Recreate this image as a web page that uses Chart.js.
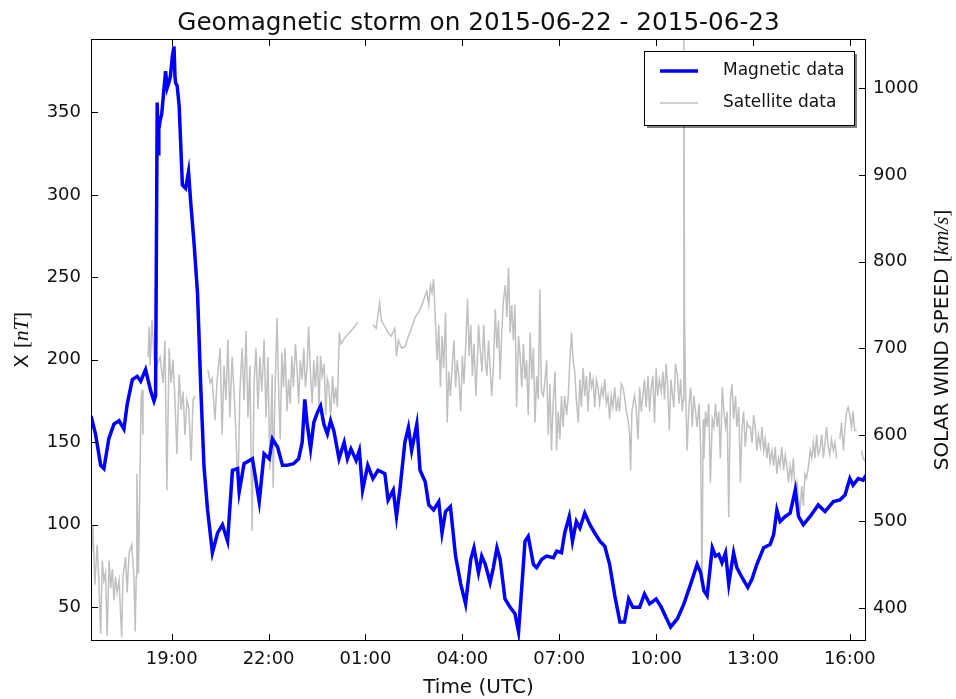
<!DOCTYPE html>
<html>
<head>
<meta charset="utf-8">
<script src="https://cdn.jsdelivr.net/npm/chart.js@4.4.1/dist/chart.umd.min.js"></script>
<style>
    body { margin: 0; background: #fff; }
    #wrap { width: 956px; height: 699px; }
</style>
</head>
<body>
<div id="wrap"><canvas id="storm" width="956" height="699"></canvas></div>
<script>
// hours counted from 2015-06-22 00:00 UTC
const magHours = [16.50, 16.64, 16.80, 16.90, 17.05, 17.21, 17.37, 17.52, 17.62, 17.78, 17.93, 18.04, 18.19, 18.35, 18.45, 18.50,
    18.55, 18.58, 18.60, 18.64, 18.69, 18.74, 18.81, 18.86, 18.91, 18.96, 19.02, 19.07, 19.10, 19.12, 19.17, 19.23, 19.33, 19.43, 19.52, 19.59, 19.69, 19.80, 19.90,
    20.00, 20.11, 20.26, 20.42, 20.57, 20.73, 20.88, 21.04, 21.09, 21.24, 21.50, 21.71, 21.86, 22.02, 22.12, 22.28,
    22.43, 22.57, 22.77, 22.93, 23.04, 23.12, 23.19, 23.30, 23.40, 23.51, 23.61, 23.71, 23.82, 23.92, 24.02, 24.18,
    24.34, 24.44, 24.55, 24.71, 24.81, 24.91, 25.07, 25.23, 25.39, 25.60, 25.70, 25.86, 25.96, 26.07, 26.22, 26.33,
    26.43, 26.59, 26.69, 26.85, 26.96, 27.11, 27.27, 27.37, 27.48, 27.63, 27.79, 27.95, 28.10, 28.26, 28.36, 28.50,
    28.60, 28.71, 28.86, 28.96, 29.07, 29.17, 29.32, 29.48, 29.63, 29.74, 29.84, 29.94, 30.04, 30.20, 30.30, 30.46,
    30.61, 30.82, 30.92, 31.07, 31.17, 31.31, 31.41, 31.53, 31.64, 31.79, 31.95, 32.10, 32.26, 32.41, 32.56, 32.72,
    32.88, 33.02, 33.15, 33.28, 33.49, 33.64, 33.80, 34.00, 34.16, 34.30, 34.45, 34.66, 34.86, 35.07, 35.27, 35.38,
    35.48, 35.58, 35.74, 35.84, 35.94, 36.04, 36.15, 36.25, 36.40, 36.50, 36.66, 36.84, 36.97, 37.12, 37.33, 37.53,
    37.64, 37.74, 37.84, 38.00, 38.15, 38.31, 38.41, 38.56, 38.77, 39.02, 39.23, 39.49, 39.69, 39.85, 40.00, 40.10,
    40.26, 40.41, 40.50];
const magValues = [166, 155, 136, 134, 152, 161, 163, 158, 173, 188, 190, 187, 194, 181, 175, 178,
    356, 325, 340, 345, 349, 360, 375, 365, 368, 372, 384, 390, 372, 368, 366, 354, 306, 304, 314, 295, 271, 240, 183,
    135, 109, 83, 95, 100, 90, 133, 134, 120, 137, 140, 114, 143, 140, 152, 147,
    136, 136, 137, 140, 150, 176, 162, 146, 162, 168, 172, 161, 155, 163, 157, 140,
    150, 140, 146, 139, 145, 121, 136, 128, 133, 131, 115, 121, 105, 122, 150, 159,
    145, 161, 133, 126, 112, 109, 114, 95, 108, 111, 81, 64, 52, 79, 86, 71,
    81, 76, 65, 74, 86, 79, 55, 50, 46, 35, 62, 90, 93, 76, 74, 79,
    81, 80, 84, 83, 95, 105, 90, 102, 98, 107, 100, 95, 90, 87, 76, 57,
    41, 41, 55, 50, 50, 58, 52, 55, 50, 44, 38, 43, 52, 64, 76, 71,
    60, 57, 86, 81, 82, 77, 83, 64, 83, 74, 68, 62, 67, 76, 86, 88,
    94, 109, 102, 105, 107, 121, 105, 100, 105, 112, 108, 114, 115, 118, 128, 124,
    128, 127, 130];

const satHours = [16.52, 16.56, 16.62, 16.69, 16.74, 16.80, 16.85, 16.90, 16.95, 17.00, 17.06, 17.11, 17.16, 17.21, 17.26, 17.31,
    17.37, 17.45, 17.49, 17.57, 17.62, 17.68, 17.76, 17.83, 17.87, 17.90, 17.92, 17.97, 18.03, 18.05, 18.08, 18.11,
    18.14, 18.27, 18.30, 18.33, 18.39, 18.45, 18.51, 18.64, 18.73, 18.79, 18.85, 18.92, 18.98, 19.04, 19.10, 19.16,
    19.23, 19.29, 19.35, 19.41, 19.47, 19.53, 19.60, 19.66, 19.72, 19.78, 20.12, 20.19, 20.25, 20.34, 20.40, 20.50,
    20.56, 20.62, 20.68, 20.74, 20.80, 20.87, 20.93, 20.99, 21.05, 21.11, 21.18, 21.24, 21.30, 21.36, 21.42, 21.49,
    21.55, 21.61, 21.67, 21.73, 21.79, 21.86, 21.92, 21.98, 22.04, 22.11, 22.14, 22.20, 22.26, 22.32, 22.36, 22.41,
    22.46, 22.51, 22.57, 22.62, 22.67, 22.72, 22.77, 22.83, 22.88, 22.93, 22.98, 23.04, 23.09, 23.14, 23.19, 23.24,
    23.30, 23.35, 23.40, 23.45, 23.51, 23.56, 23.61, 23.66, 23.72, 23.77, 23.82, 23.87, 23.92, 23.98, 24.03, 24.08,
    24.13, 24.19, 24.24, 24.34, 24.45, 24.55, 24.66, 24.76, 24.90, 25.23, 25.33, 25.44, 25.49, 25.60, 25.70, 25.80,
    25.91, 25.96, 26.02, 26.12, 26.23, 26.33, 26.43, 26.54, 26.64, 26.75, 26.85, 26.90, 26.96, 27.01, 27.06, 27.11,
    27.16, 27.22, 27.27, 27.32, 27.37, 27.42, 27.48, 27.53, 27.58, 27.63, 27.69, 27.74, 27.79, 27.84, 27.89, 27.95,
    28.00, 28.05, 28.10, 28.16, 28.21, 28.26, 28.31, 28.36, 28.42, 28.47, 28.50, 28.55, 28.61, 28.66, 28.71, 28.76,
    28.81, 28.86, 28.91, 28.96, 29.02, 29.07, 29.12, 29.17, 29.22, 29.27, 29.33, 29.38, 29.43, 29.48, 29.53, 29.58,
    29.63, 29.68, 29.74, 29.79, 29.84, 29.89, 29.94, 29.99, 30.04, 30.10, 30.15, 30.20, 30.25, 30.30, 30.35, 30.40,
    30.45, 30.51, 30.56, 30.61, 30.66, 30.71, 30.76, 30.81, 30.87, 30.92, 30.97, 31.02, 31.07, 31.12, 31.17, 31.23,
    31.28, 31.33, 31.38, 31.43, 31.48, 31.53, 31.59, 31.64, 31.69, 31.74, 31.79, 31.84, 31.89, 31.95, 32.00, 32.05,
    32.10, 32.15, 32.20, 32.25, 32.31, 32.36, 32.41, 32.46, 32.51, 32.56, 32.61, 32.66, 32.72, 32.77, 32.82, 32.87,
    32.92, 32.97, 33.02, 33.08, 33.13, 33.18, 33.21, 33.25, 33.33, 33.38, 33.44, 33.49, 33.54, 33.59, 33.64, 33.69,
    33.75, 33.80, 33.85, 33.90, 33.95, 34.00, 34.05, 34.10, 34.16, 34.21, 34.26, 34.31, 34.36, 34.41, 34.46, 34.51,
    34.55, 34.60, 34.66, 34.71, 34.76, 34.81, 34.84, 34.86, 34.88, 34.91, 34.96, 35.02, 35.07, 35.12, 35.17, 35.22,
    35.27, 35.33, 35.38, 35.42, 35.46, 35.48, 35.53, 35.58, 35.63, 35.68, 35.74, 35.79, 35.84, 35.89, 35.94, 35.99,
    36.05, 36.10, 36.15, 36.20, 36.25, 36.30, 36.35, 36.40, 36.46, 36.50, 36.56, 36.61, 36.66, 36.71, 36.76, 36.82,
    36.87, 36.92, 36.97, 37.02, 37.07, 37.12, 37.17, 37.23, 37.28, 37.33, 37.38, 37.43, 37.48, 37.53, 37.59, 37.64,
    37.69, 37.74, 37.79, 37.84, 37.89, 37.95, 38.00, 38.05, 38.10, 38.15, 38.20, 38.25, 38.31, 38.36, 38.41, 38.46,
    38.51, 38.56, 38.61, 38.66, 38.72, 38.77, 38.82, 38.87, 38.92, 38.97, 39.02, 39.07, 39.13, 39.18, 39.23, 39.28,
    39.33, 39.38, 39.43, 39.49, 39.54, 39.59, 39.62, 39.69, 39.74, 39.80, 39.85, 39.90, 39.95, 40.00, 40.05, 40.10,
    40.15, 40.21, 40.26, 40.36, 40.41, 40.50];
const satValues = [464, 495, 427, 473, 436, 370, 455, 432, 441, 368, 455, 423, 445, 409, 436, 418,
    432, 366, 436, 459, 418, 464, 473, 436, 373, 436, 555, 440, 586, 640, 652, 600,
    null, 690, 725, 680, 733, 690, 678, 690, 660, 709, 536, 700, 660, 687, 640, 578,
    670, 629, 650, 600, 640, 630, 570, 640, 645, null, 675, 660, 665, 617, 660, 700,
    600, 680, 640, 710, 620, 690, 650, 600, 532, 650, 700, 640, 720, 620, 680, 489,
    660, 700, 630, 690, 650, 710, 620, 690, 560, 670, 539, 650, 735, 640, 595, 695,
    655, 700, 627, 664, 636, 691, 655, 705, 677, 636, 686, 664, 700, 655, 677, 725,
    668, 636, 686, 655, 691, 632, 691, 668, 682, 623, 664, 655, 618, 668, 636, 655,
    632, 718, 705, 711, 716, 720, 725, 730, null, 727, 723, 752, 732, 725, 718, 714,
    723, 691, 709, 700, 702, 714, 723, 736, 741, 750, 761, 766, 750, 773, 764, 780,
    736, 686, 727, 655, 714, 677, 741, 614, 673, 645, 682, 709, 655, 686, 668, 627,
    691, 659, 700, 757, 691, 727, 668, 705, 645, 691, 727, 700, 673, 727, 686, 668,
    709, 677, 645, 677, 745, 700, 732, 664, 718, 755, 773, 736, 793, 718, 750, 709,
    750, 632, 714, 691, 655, 705, 664, 686, 623, 718, 664, 700, 614, 668, 641, 768,
    650, 645, 664, 686, 600, 659, 582, 636, 673, 582, 627, 595, 645, 609, 645, 623,
    645, 686, 718, 686, 673, 641, 614, 664, 632, 677, 645, 668, 627, 673, 655, 664,
    632, 664, 655, 636, 655, 645, 664, 636, 645, 618, 645, 632, 655, 627, 641, 627,
    659, 655, 645, 627, 618, 600, 559, 627, 645, 632, 595, 655, 627, 645, 664, 632,
    668, 627, 655, 668, 614, 677, 645, 664, 650, 673, 641, 682, 655, 605, 664, 645,
    632, 682, 668, 636, 664, 627, 640, 1060, 736, 655, 582, 636, 655, 609, 645, 627,
    609, 636, 586, 430, 618, 573, 627, 609, 636, 545, 618, 609, 636, 609, 627, 573,
    655, 627, 609, 627, 505, 641, 659, 618, 645, 609, 632, 545, 609, 627, 586, 614,
    609, 609, 591, 623, 609, 582, 600, 586, 609, 582, 595, 573, 591, 568, 582, 564,
    586, 555, 573, 564, 586, 559, 577, 564, 545, 564, 550, 573, 532, 545, 527, 514,
    541, 518, 555, 550, 564, 582, 573, 591, 573, 600, 577, 582, 600, 573, 591, 609,
    586, 577, 595, 582, 591, 573, null, 595, 614, 582, 609, 627, 632, 623, 609, 627,
    605, 605, null, 582, 573, 568];

const timeTicks = [19, 22, 25, 28, 31, 34, 37, 40];
const fieldTicks = [50, 100, 150, 200, 250, 300, 350];
const speedTicks = [400, 500, 600, 700, 800, 900, 1000];

const FONT = 'DejaVu Sans';
const INK = '#111';

const magPoints = magHours.map((h, i) => ({ x: h, y: magValues[i] }));
const satPoints = satHours.map((h, i) => ({ x: h, y: satValues[i] }));

// draws runs of text one after another, each with its own font
function drawRuns(ctx, runs, x, y, align) {
    let total = 0;
    runs.forEach(r => { ctx.font = r.font; r.w = ctx.measureText(r.text).width; total += r.w; });
    let cx = align === 'center' ? x - total / 2 : x;
    ctx.textAlign = 'left';
    runs.forEach(r => { ctx.font = r.font; ctx.fillText(r.text, cx, y); cx += r.w; });
}

const decorPlugin = {
    id: 'decor',
    afterDraw(chart) {
        const { ctx, chartArea: a, scales } = chart;
        ctx.save();
        ctx.strokeStyle = '#000';
        ctx.lineWidth = 1;
        ctx.strokeRect(a.left + 0.5, a.top + 0.5, a.right - a.left - 1, a.bottom - a.top - 1);

        // inward ticks like the matplotlib classic style
        const tl = 7;
        ctx.beginPath();
        timeTicks.forEach(t => {
            const x = Math.round(scales.x.getPixelForValue(t)) + 0.5;
            ctx.moveTo(x, a.bottom); ctx.lineTo(x, a.bottom - tl);
            ctx.moveTo(x, a.top); ctx.lineTo(x, a.top + tl);
        });
        fieldTicks.forEach(v => {
            const y = Math.round(scales.y.getPixelForValue(v)) + 0.5;
            ctx.moveTo(a.left, y); ctx.lineTo(a.left + tl, y);
        });
        speedTicks.forEach(v => {
            const y = Math.round(scales.y2.getPixelForValue(v)) + 0.5;
            ctx.moveTo(a.right, y); ctx.lineTo(a.right - tl, y);
        });
        ctx.stroke();

        ctx.fillStyle = INK;
        ctx.textBaseline = 'alphabetic';

        // title
        ctx.font = `24.7px ${FONT}`;
        ctx.textAlign = 'center';
        ctx.fillText('Geomagnetic storm on 2015-06-22 - 2015-06-23', (a.left + a.right) / 2, 30);

        // x axis title
        ctx.font = `20px ${FONT}`;
        ctx.fillText('Time (UTC)', (a.left + a.right) / 2, 693);

        // left axis title
        ctx.save();
        ctx.translate(28, (a.top + a.bottom) / 2);
        ctx.rotate(-Math.PI / 2);
        drawRuns(ctx, [
            { text: 'X ', font: `20px ${FONT}` },
            { text: '[', font: `21px 'Liberation Serif'` },
            { text: 'nT', font: `italic 21px 'Liberation Serif'` },
            { text: ']', font: `21px 'Liberation Serif'` }
        ], 0, 0, 'center');
        ctx.restore();

        // right axis title
        ctx.save();
        ctx.translate(948, (a.top + a.bottom) / 2);
        ctx.rotate(-Math.PI / 2);
        drawRuns(ctx, [
            { text: 'SOLAR WIND SPEED ', font: `20px ${FONT}` },
            { text: '[', font: `21px 'Liberation Serif'` },
            { text: 'km/s', font: `italic 21px 'Liberation Serif'` },
            { text: ']', font: `21px 'Liberation Serif'` }
        ], 0, 0, 'center');
        ctx.restore();

        // legend box with drop shadow
        const bw = 210, bh = 74;
        const bx = a.right - 12 - bw, by = a.top + 12;
        ctx.fillStyle = 'rgba(0,0,0,0.5)';
        ctx.fillRect(bx + 3, by + 3, bw, bh);
        ctx.fillStyle = '#fff';
        ctx.fillRect(bx, by, bw, bh);
        ctx.strokeStyle = '#000';
        ctx.strokeRect(bx + 0.5, by + 0.5, bw, bh);

        chart.data.datasets.forEach((ds, i) => {
            const ly = by + 20 + i * 32;
            ctx.strokeStyle = ds.borderColor;
            ctx.lineWidth = ds.borderWidth;
            ctx.beginPath();
            ctx.moveTo(bx + 16, ly);
            ctx.lineTo(bx + 54, ly);
            ctx.stroke();
            ctx.fillStyle = INK;
            ctx.font = `17px ${FONT}`;
            ctx.textAlign = 'left';
            ctx.textBaseline = 'middle';
            ctx.fillText(ds.label, bx + 79, ly);
        });
        ctx.restore();
    }
};

const tickFont = { family: FONT, size: 18 };

new Chart(document.getElementById('storm'), {
    type: 'line',
    data: {
        datasets: [
            { label: 'Magnetic data', data: magPoints, yAxisID: 'y', borderColor: '#0000ff', borderWidth: 3.5, pointRadius: 0, tension: 0 },
            { label: 'Satellite data', data: satPoints, yAxisID: 'y2', borderColor: '#c0c0c0', borderWidth: 1.5, pointRadius: 0, tension: 0, spanGaps: false }
        ]
    },
    options: {
        responsive: false,
        animation: false,
        devicePixelRatio: 1,
        layout: { padding: { top: 39, left: 0, right: 0, bottom: 0 } },
        plugins: { legend: { display: false }, tooltip: { enabled: false }, title: { display: false } },
        scales: {
            x: {
                type: 'linear', min: 16.5, max: 40.5,
                afterBuildTicks: s => { s.ticks = timeTicks.map(v => ({ value: v })); },
                afterFit: s => { s.height = 58; },
                grid: { display: false, drawTicks: false },
                border: { display: false },
                ticks: {
                    font: tickFont, color: INK, padding: 8, autoSkip: false, maxRotation: 0,
                    callback: v => String(v % 24).padStart(2, '0') + ':00'
                }
            },
            y: {
                position: 'left', min: 29.5, max: 394.5,
                afterBuildTicks: s => { s.ticks = fieldTicks.map(v => ({ value: v })); },
                afterFit: s => { s.width = 91; },
                grid: { display: false, drawTicks: false },
                border: { display: false },
                ticks: { font: tickFont, color: INK, padding: 10, callback: v => String(v) }
            },
            y2: {
                position: 'right', min: 362, max: 1057,
                afterBuildTicks: s => { s.ticks = speedTicks.map(v => ({ value: v })); },
                afterFit: s => { s.width = 90; },
                grid: { display: false, drawTicks: false },
                border: { display: false },
                ticks: { font: tickFont, color: INK, padding: 7, callback: v => String(v) }
            }
        }
    },
    plugins: [decorPlugin]
});
</script>
</body>
</html>
